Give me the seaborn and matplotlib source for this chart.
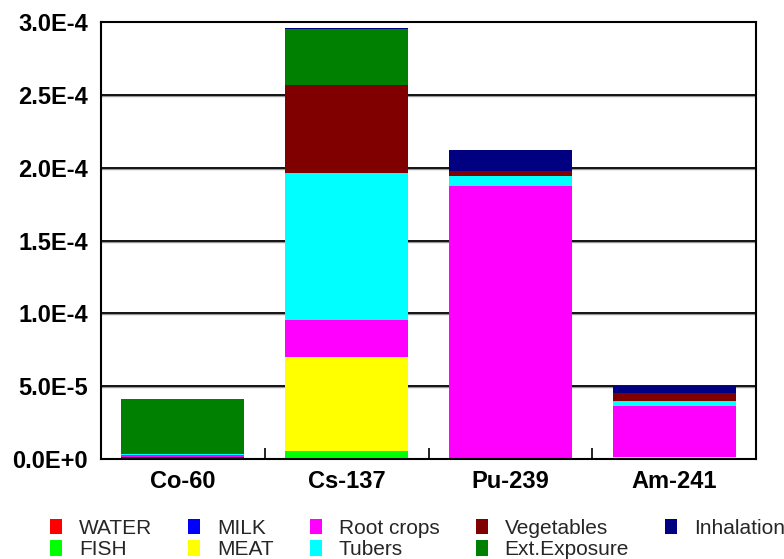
import matplotlib
matplotlib.use("Agg")
import matplotlib.pyplot as plt
from matplotlib.patches import Patch
import seaborn as sns
import numpy as np

categories = ["Co-60", "Cs-137", "Pu-239", "Am-241"]
series_names = ["WATER", "FISH", "MILK", "MEAT", "Root crops", "Tubers",
                "Vegetables", "Ext.Exposure", "Inhalation"]
water = [0.0, 0.0, 0.0, 0.0]
fish = [0.0, 5.5e-6, 0.0, 0.0]
milk = [1.5e-6, 3.0e-7, 2.0e-7, 2.0e-7]
meat = [2.0e-7, 6.40e-5, 0.0, 1.2e-6]
root_crops = [8.0e-7, 2.56e-5, 1.872e-4, 3.48e-5]
tubers = [8.0e-7, 1.011e-4, 6.8e-6, 3.4e-6]
vegetables = [3.0e-7, 6.00e-5, 3.3e-6, 5.5e-6]
ext_exposure = [3.75e-5, 3.88e-5, 3.0e-7, 1.0e-7]
inhalation = [2.0e-7, 4.0e-7, 1.46e-5, 5.2e-6]
series_values = [water, fish, milk, meat, root_crops, tubers, vegetables,
                 ext_exposure, inhalation]
series_colors = ["#FF0000", "#00FF00", "#0000FF", "#FFFF00", "#FF00FF",
                 "#00FFFF", "#800000", "#008000", "#000080"]
y_ticks = [0.0, 5e-5, 1e-4, 1.5e-4, 2e-4, 2.5e-4, 3e-4]
y_tick_labels = ["0.0E+0", "5.0E-5", "1.0E-4", "1.5E-4", "2.0E-4", "2.5E-4", "3.0E-4"]

sns.set_theme(style="white")
plt.rcParams["font.family"] = ["Liberation Sans", "DejaVu Sans"]

fig = plt.figure(figsize=(7.84, 5.59), dpi=100)
ax = fig.add_axes([101/784, 100/559, 655/784, 437/559])

bottom = np.zeros(len(categories))
for name, vals, col in zip(series_names, series_values, series_colors):
    sns.barplot(x=categories, y=vals, bottom=bottom, color=col, saturation=1,
                width=0.75, ax=ax, linewidth=0, zorder=3)
    bottom = bottom + np.array(vals)

ax.set_xlim(-0.5, 3.5)
ax.set_ylim(0, 3e-4)
ax.set_yticks(y_ticks)
ax.set_yticklabels(y_tick_labels, fontsize=17, fontweight="bold")
ax.set_xticks(range(len(categories)))
ax.set_xticklabels(categories, fontsize=17, fontweight="bold")
ax.set_xticks([0.5, 1.5, 2.5], minor=True)
ax.tick_params(axis="y", which="major", length=0, pad=9.5, colors="black")
ax.tick_params(axis="x", which="major", length=0, pad=8, colors="black")
ax.tick_params(axis="x", which="minor", direction="in", length=8, width=1.2,
               bottom=True, color="black")
for y in y_ticks[1:-1]:
    ax.axhline(y - 8e-7, color="#999999", linewidth=1.0, zorder=1)
    ax.axhline(y, color="black", linewidth=1.3, zorder=1.5)
for s in ax.spines.values():
    s.set_color("black")
    s.set_linewidth(1.5)
    s.set_visible(True)
    s.set_zorder(4)
ax.set_xlabel("")
ax.set_ylabel("")

handles = [Patch(facecolor=c, edgecolor="none", label=n)
           for n, c in zip(series_names, series_colors)]
fig.legend(handles=handles, ncol=5, loc="lower left",
           bbox_to_anchor=(48/784, -0.004), frameon=False, fontsize=15,
           handlelength=0.58, handleheight=0.75, handletextpad=0.8,
           columnspacing=1.74, labelspacing=0.12, borderaxespad=0,
           borderpad=0.1)

fig.savefig("out.png", dpi=100)
